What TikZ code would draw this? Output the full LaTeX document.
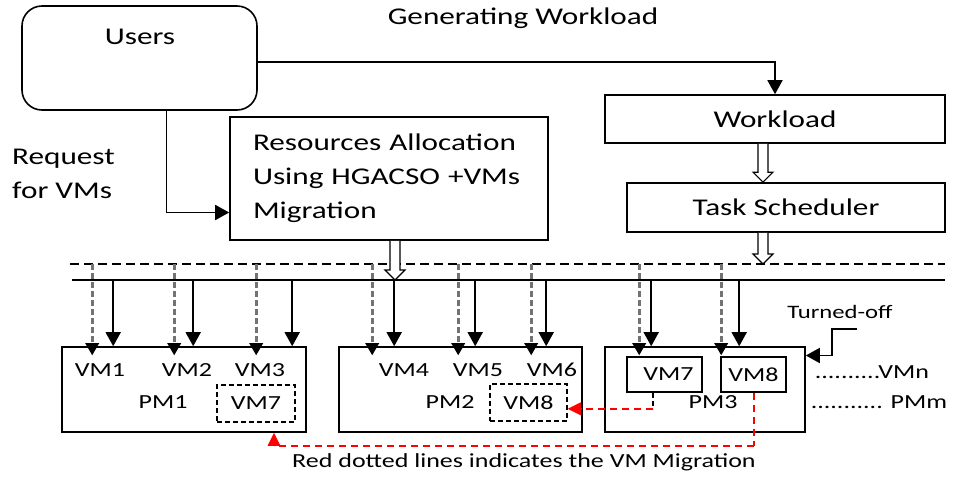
\documentclass[tikz,border=0pt]{standalone}
\usepackage{fontspec}
\setmainfont[FakeStretch=1.3]{Carlito}
\usetikzlibrary{arrows.meta,calc}
\newcommand{\hollowarrow}[2]{%
  \draw[line width=1.1pt, fill=white] let \p1=(#1), \p2=(#2) in
    (\x1-5pt,\y1) -- (\x1-5pt,\y2+10pt) -- (\x1-10pt,\y2+10pt) -- (\x1,\y2)
    -- (\x1+10pt,\y2+10pt) -- (\x1+5pt,\y2+10pt) -- (\x1+5pt,\y1);}
\begin{document}
\begin{tikzpicture}[x=1pt,y=-1pt,
  big/.style={font=\fontsize{24}{34}\selectfont},
  vmtext/.style={font=\fontsize{20}{24}\selectfont, inner sep=0pt},
  smalltext/.style={font=\fontsize{19}{22}\selectfont, inner sep=0pt},
  boxstyle/.style={draw, line width=1.6pt, inner sep=0pt},
  arr/.style={line width=1.7pt, -{Triangle[length=14pt,width=15pt]}},
  dasharr/.style={draw=black!55, line width=3pt, dash pattern=on 6pt off 3pt,
     -{Triangle[length=12pt,width=14pt,color=black,fill=black,line width=0pt]}},
  redarr/.style={draw=red, line width=2pt, dash pattern=on 7pt off 5pt,
     -{Triangle[length=13pt,width=13pt,color=red,fill=red,line width=0pt]}},
  vmd/.style={draw, line width=1.5pt, dash pattern=on 5pt off 3pt, inner sep=0pt,
     minimum height=37pt, vmtext},
  vmb/.style={draw, line width=1.6pt, inner sep=0pt, minimum height=35pt, vmtext}]
\useasboundingbox (0,0) rectangle (954,477);
\fill[white] (0,0) rectangle (954,477);

% top boxes
\node[boxstyle, rounded corners=20pt, minimum width=235pt, minimum height=104pt] (users) at (139.5,58) {};
\node[big, inner sep=0pt] (userst) at (140,37) {Users};
\node[big, inner sep=0pt] (gen) at (523,18) {Generating Workload};
\node[big, inner sep=0pt, anchor=west, align=left] (req) at (12,174) {Request\\for VMs};
\node[boxstyle, minimum width=318pt, minimum height=123pt, big, text width=272pt, align=left] (res) at (389,178.5)
  {Resources Allocation\\Using HGACSO +VMs\\Migration};
\node[boxstyle, minimum width=340pt, minimum height=48pt, big] (wl) at (775,119) {Workload};
\node[boxstyle, minimum width=318pt, minimum height=49pt, big] (ts) at (786,207.5) {Task Scheduler};

% buses
\coordinate (dbusL) at (70,264);
\coordinate (dbusR) at (945,264);
\coordinate (sbusL) at (72,280);
\coordinate (sbusR) at (945,280);
\draw[line width=1.6pt, dash pattern=on 9pt off 5pt] (dbusL) -- (dbusR);
\draw[line width=1.6pt] (sbusL) -- (sbusR);

% connectors top
\draw[arr] ([yshift=-4pt]users.east) -| (wl.north);
\draw[arr] ([xshift=27pt]users.south) |- ([yshift=-34pt]res.west);
\hollowarrow{[xshift=-12pt]wl.south}{[xshift=-23pt]ts.north}
\hollowarrow{[xshift=-23pt]ts.south}{[xshift=-23pt]ts.south |- dbusL}
\hollowarrow{[xshift=6pt]res.south}{[xshift=6pt]res.south |- sbusL}

% PM boxes
\node[boxstyle, minimum width=244pt, minimum height=85pt] (pm1) at (184,389.5) {};
\node[boxstyle, minimum width=243pt, minimum height=85pt] (pm2) at (460.5,389.5) {};
\node[boxstyle, minimum width=200pt, minimum height=85pt] (pm3) at (705,389.5) {};

% arrows to PMs
\foreach \p/\dx/\sx in {pm1/31/52, pm1/113/132, pm1/195/231,
                        pm2/34/56, pm2/120/137, pm2/193/208,
                        pm3/35/47, pm3/117/135} {
  \draw[dasharr] ([xshift=\dx pt]\p.north west |- dbusL) -- ([xshift=\dx pt, yshift=-9pt]\p.north west);
  \draw[arr] ([xshift=\sx pt]\p.north west |- sbusL) -- ([xshift=\sx pt]\p.north west);
}

% PM1 contents
\node[vmtext] (vm1) at (100,370) {VM1};
\node[vmtext] (vm2) at (187,370) {VM2};
\node[vmtext] (vm3) at (260,370) {VM3};
\node[vmtext] (pm1t) at (163,402) {PM1};
\node[vmd, minimum width=78pt] (vm7d) at (256,403.5) {VM7};

% PM2 contents
\node[vmtext] (vm4) at (404,370) {VM4};
\node[vmtext] (vm5) at (478,370) {VM5};
\node[vmtext] (vm6) at (552,370) {VM6};
\node[vmtext] (pm2t) at (450,402) {PM2};
\node[vmd, minimum width=77pt] (vm8d) at (528.5,402.5) {VM8};

% PM3 contents
\node[vmb, minimum width=75pt] (vm7b) at (664.5,374.5) {\hspace*{8pt}VM7};
\node[vmb, minimum width=65pt] (vm8b) at (753.5,374.5) {VM8};
\node[vmtext] (pm3t) at (713,402) {PM3};

% right side labels
\node[vmtext] (vmn) at (872,372) {..........VMn};
\node[vmtext] (pmm) at (879,402) {........... PMm};
\node[smalltext] (toff) at (840,312) {Turned-off};
\coordinate (toffs) at (857,329);
\draw[arr] (toffs) -- ++(-25,0) |- ([yshift=34pt]pm3.east);

% migrations
\coordinate (m1bend) at ([xshift=-11.5pt,yshift=-16pt]vm7b.south);
\coordinate (m2start) at ([xshift=0.5pt]vm8b.south);
\coordinate (m2bend) at ([yshift=-53pt]m2start);
\coordinate (m2end) at ([xshift=18pt]vm7d.south |- pm1.south);
\draw[line width=1.6pt, dash pattern=on 5pt off 3pt] ([xshift=-11.5pt]vm7b.south) -- (m1bend);
\draw[redarr] (m1bend) -- (m1bend -| vm8d.east);
\draw[red, line width=2pt, dash pattern=on 7pt off 5pt] (m2start) -- (m2bend);
\draw[redarr] (m2bend) -| (m2end);

\node[vmtext] (note) at (524,462) {Red dotted lines indicates the VM Migration};
\end{tikzpicture}
\end{document}
